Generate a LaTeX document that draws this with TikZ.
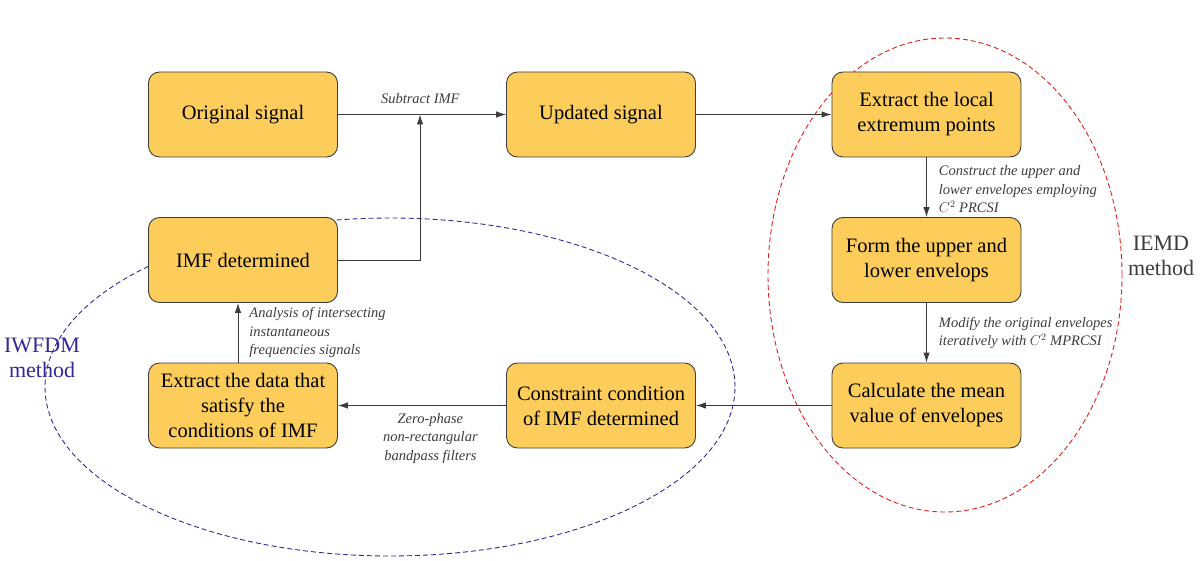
\documentclass[tikz,border=0pt]{standalone}
\usepackage{fontspec}
\setmainfont{Liberation Serif}
\usetikzlibrary{arrows.meta,positioning,shapes.geometric}
\definecolor{boxfill}{RGB}{252,205,90}
\definecolor{boxline}{RGB}{60,60,60}
\definecolor{iwblue}{RGB}{50,40,150}
\definecolor{iered}{RGB}{230,30,30}
\begin{document}
\begin{tikzpicture}[x=1pt,y=-1pt,
  stepbox/.style={draw=boxline,line width=0.9pt,fill=boxfill,rounded corners=11pt,
    minimum width=189pt,minimum height=85pt,align=center,font=\fontsize{20.5}{25}\selectfont,
    inner sep=2pt},
  flow/.style={-{Latex[length=10pt,width=6.5pt]},line width=0.9pt,draw=boxline},
  note/.style={font=\itshape\fontsize{14.5}{18.5}\selectfont,text=boxline,align=left,inner sep=1pt},
  region/.style={dashed,dash pattern=on 5pt off 3pt,line width=0.9pt},
  method/.style={align=center,font=\fontsize{22}{25}\selectfont}]
\useasboundingbox (0,0) rectangle (1201,561);
% method regions, drawn first so the steps cover them
\node[draw=iwblue,region,ellipse,minimum width=690pt,minimum height=338pt,inner sep=0pt] (iwe) at (390,387) {};
\node[draw=iered,region,ellipse,minimum width=354pt,minimum height=474pt,inner sep=0pt] (iee) at (945,275) {};
\node[method,text=iwblue] (iwl) at (42,358) {IWFDM\\method};
\node[method,text=boxline] (iel) at (1161,256) {IEMD\\method};
% process steps
\node[stepbox] (orig) at (243,114.5) {Original signal};
\node[stepbox] (upd) at (601,114.5) {Updated signal};
\node[stepbox] (ext) at (926.5,114.5) {Extract the local\\extremum points};
\node[stepbox] (form) at (926.5,260) {Form the upper and\\lower envelops};
\node[stepbox] (mean) at (926.5,405.5) {Calculate the mean\\value of envelopes};
\node[stepbox] (cons) at (601,405.5) {Constraint condition\\of IMF determined};
\node[stepbox] (data) at (243,405.5) {Extract the data that\\satisfy the\\conditions of IMF};
\node[stepbox] (imf) at (243,260) {IMF determined};
% connectors
\coordinate (join) at (420,114.5);
\draw[flow] (orig) -- (upd) node[note,pos=0.49,above=9pt] {Subtract IMF};
\draw[flow] (imf.east) -| (join);
\draw[flow] (upd) -- (ext);
\draw[flow] (ext) -- (form) node[note,midway,right=11pt,yshift=-2pt] {Construct the upper and\\lower envelopes employing\\$C^2$ PRCSI};
\draw[flow] (form) -- (mean) node[note,midway,right=11pt] {Modify the original envelopes\\iteratively with $C^2$ MPRCSI};
\draw[flow] (mean) -- (cons);
\draw[flow] (cons) -- (data) node[note,pos=0.45,below=6pt,align=center] {Zero-phase\\non-rectangular\\bandpass filters};
\draw[flow] (data.north -| 238,0) -- (imf.south -| 238,0) node[note,midway,right=10pt] {Analysis of intersecting\\instantaneous\\frequencies signals};
\end{tikzpicture}
\end{document}
